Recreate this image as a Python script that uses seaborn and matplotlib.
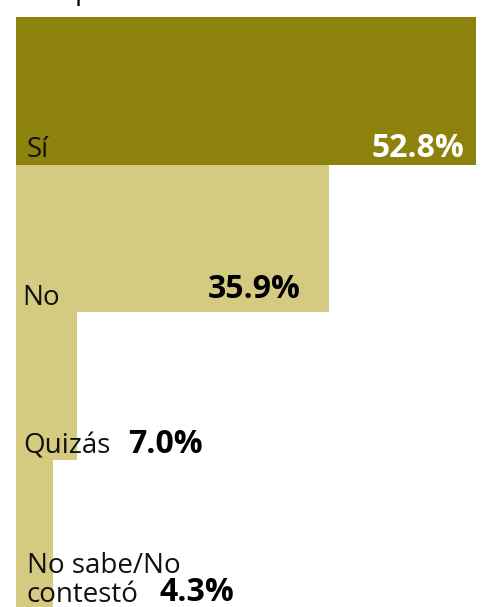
import matplotlib
matplotlib.use("Agg")
import matplotlib.pyplot as plt
import seaborn as sns
import pandas as pd

categories = ["Sí", "No", "Quizás", "No sabe/No\ncontestó"]
values = [52.8, 35.9, 7.0, 4.3]
bar_colors = ["#8C820C", "#D5CB80", "#D5CB80", "#D5CB80"]

sns.set_theme(style="white")
plt.rcParams['font.family'] = ['Open Sans', 'DejaVu Sans']

W, H = 483, 607
fig = plt.figure(figsize=(W / 100, H / 100), dpi=100)
ax = fig.add_axes([16 / W, 0, (W - 16) / W, 590 / H])

df = pd.DataFrame({"cat": categories, "val": values})
sns.barplot(data=df, x="val", y="cat", hue="cat", palette=bar_colors,
            width=1.0, legend=False, ax=ax, saturation=1, linewidth=0)
ax.set_xlim(0, 467 / 8.712)
ax.set_ylim(3.5, -0.5)
ax.axis("off")


def px(x, y):
    return x / W, 1 - y / H


# cut-off title descender at top (the reference is cropped there)
fig.text(*px(75, -1.5), "p", fontsize=20, color="black", va="baseline", ha="left")

label_fs = 20
value_fs = 23

# category labels (pixel layout)
cat_pos = [(27, 157), (22, 305), (23, 454)]
for (x, y), c in zip(cat_pos, categories[:3]):
    fig.text(*px(x, y), c, fontsize=label_fs, color="#111111", va="baseline", ha="left")
l1, l2 = categories[3].split("\n")
fig.text(*px(27, 573), l1, fontsize=label_fs, color="#111111", va="baseline", ha="left")
fig.text(*px(27, 602), l2, fontsize=label_fs, color="#111111", va="baseline", ha="left")

# value labels
val_layout = [(464, 157, "right", "white"), (301, 298, "right", "black"),
              (128, 453, "left", "black"), (160, 601, "left", "black")]
for (x, y, ha, col), v in zip(val_layout, values):
    fig.text(*px(x, y), f"{v:.1f}%", fontsize=value_fs, fontweight="bold",
             color=col, va="baseline", ha=ha)

fig.savefig("out.png", dpi=100)
